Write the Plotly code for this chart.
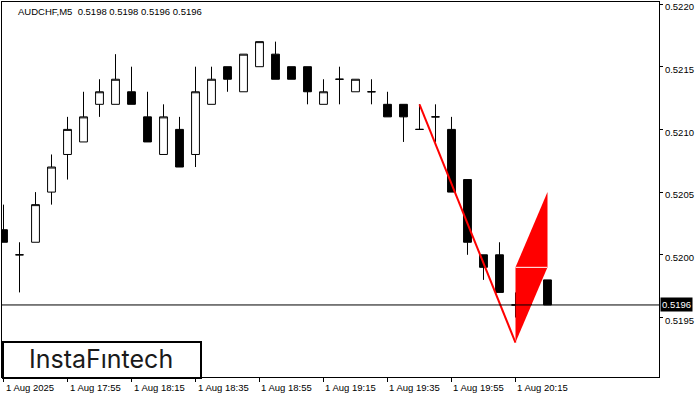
import pandas as pd
import plotly.graph_objects as go

title_text = "AUDCHF,M5  0.5198 0.5198 0.5196 0.5196"
logo_text = "InstaFıntech"

opens = [0.5202, 0.5200, 0.5201, 0.5205, 0.5208, 0.5209, 0.5212, 0.5212, 0.5213, 0.5211,
         0.5208, 0.5210, 0.5208, 0.5212, 0.5215, 0.5213, 0.5215, 0.5216, 0.5215, 0.5215,
         0.5212, 0.5214, 0.5213, 0.5213, 0.5212, 0.5212, 0.5210, 0.5211, 0.5210, 0.5206,
         0.5200, 0.5200, 0.5196, 0.5197, 0.5198]
highs = [0.5204, 0.5201, 0.5205, 0.5208, 0.5211, 0.5213, 0.5214, 0.5216, 0.5215, 0.5213,
         0.5212, 0.5211, 0.5215, 0.5215, 0.5215, 0.5216, 0.5217, 0.5217, 0.5215, 0.5215,
         0.5214, 0.5215, 0.5214, 0.5214, 0.5213, 0.5212, 0.5212, 0.5212, 0.5211, 0.5206,
         0.5200, 0.5201, 0.5197, 0.5200, 0.5198]
lows = [0.5201, 0.5197, 0.5201, 0.5204, 0.5206, 0.5209, 0.5211, 0.5212, 0.5212, 0.5209,
        0.5208, 0.5207, 0.5207, 0.5212, 0.5213, 0.5213, 0.5215, 0.5214, 0.5214, 0.5212,
        0.5212, 0.5212, 0.5213, 0.5212, 0.5211, 0.5209, 0.5210, 0.5209, 0.5205, 0.5200,
        0.5198, 0.5197, 0.5195, 0.5196, 0.5196]
closes = [0.5201, 0.5200, 0.5204, 0.5207, 0.5210, 0.5211, 0.5213, 0.5214, 0.5212, 0.5209,
          0.5211, 0.5207, 0.5213, 0.5214, 0.5214, 0.5216, 0.5217, 0.5214, 0.5214, 0.5213,
          0.5213, 0.5214, 0.5214, 0.5213, 0.5211, 0.5211, 0.5210, 0.5211, 0.5205, 0.5201,
          0.5199, 0.5197, 0.5196, 0.5199, 0.5196]

tick_idx = [0, 4, 8, 12, 16, 20, 24, 28, 32]
tick_labels = ["1 Aug 2025", "1 Aug 17:55", "1 Aug 18:15", "1 Aug 18:35", "1 Aug 18:55",
               "1 Aug 19:15", "1 Aug 19:35", "1 Aug 19:55", "1 Aug 20:15"]
price_ticks = [0.5195, 0.5200, 0.5205, 0.5210, 0.5215, 0.5220]

pole_idx = [26, 32]
pole_prices = [0.5212, 0.5193]
flag_idx = [32, 32, 34, 34, 32]
flag_prices = [0.5193, 0.5199, 0.5205, 0.5199, 0.5193]
sep_idx = [32, 34]
sep_prices = [0.5199, 0.5199]

times = pd.date_range("2025-08-01 17:35", periods=len(opens), freq="5min")
step = pd.Timedelta(minutes=5)

FONT = "Liberation Sans, Arial, sans-serif"

fig = go.Figure()
fig.add_trace(go.Scatter(x=[times[i] for i in flag_idx], y=flag_prices, mode="lines",
                         fill="toself", fillcolor="#ff0000", line=dict(width=0, color="#ff0000"),
                         hoverinfo="skip", showlegend=False))
fig.add_trace(go.Scatter(x=[times[i] for i in sep_idx], y=sep_prices, mode="lines",
                         line=dict(width=1, color="white"), hoverinfo="skip", showlegend=False))
fig.add_trace(go.Candlestick(x=times, open=opens, high=highs, low=lows, close=closes,
                             increasing=dict(line=dict(color="black", width=1), fillcolor="white"),
                             decreasing=dict(line=dict(color="black", width=1), fillcolor="black"),
                             whiskerwidth=0, showlegend=False, hoverinfo="skip"))
fig.add_trace(go.Scatter(x=[times[i] for i in pole_idx], y=pole_prices, mode="lines",
                         line=dict(width=2, color="#ff0000"), hoverinfo="skip", showlegend=False))

annotations = []
for i, lab in zip(tick_idx, tick_labels):
    annotations.append(dict(x=times[i], xref="x", y=0, yref="paper", text=lab,
                            showarrow=False, xanchor="left", yanchor="top", xshift=0, yshift=-3,
                            font=dict(family=FONT, size=9.5, color="black")))
annotations.append(dict(x=0, xref="paper", y=1, yref="paper", text=title_text, showarrow=False,
                        xanchor="left", yanchor="top", xshift=14, yshift=-2,
                        font=dict(family=FONT, size=9.5, color="black")))
annotations.append(dict(x=1, xref="paper", y=closes[-1], yref="y", text=f"{closes[-1]:.4f}",
                        showarrow=False, xanchor="left", yanchor="middle", xshift=1,
                        bgcolor="black", borderpad=1,
                        font=dict(family=FONT, size=9.5, color="white")))
annotations.append(dict(x=(100.8 - 2) / 657, xref="paper", y=(377 - 359) / 375, yref="paper",
                        text=logo_text, showarrow=False, xanchor="center", yanchor="middle",
                        font=dict(family="Inter, sans-serif", size=25, color="#1a1a1a")))

shapes = [
    dict(type="line", xref="paper", x0=0, x1=1, yref="y", y0=closes[-1], y1=closes[-1],
         line=dict(color="black", width=1), layer="above"),
    dict(type="rect", xref="paper", x0=1 / 657, x1=199 / 657, yref="paper",
         y0=-1 / 375, y1=35 / 375, line=dict(color="black", width=2), fillcolor="white",
         layer="above"),
]

fig.update_layout(
    width=700, height=400,
    margin=dict(l=2, r=41, t=2, b=23, autoexpand=False),
    paper_bgcolor="white", plot_bgcolor="white",
    showlegend=False,
    annotations=annotations,
    shapes=shapes,
    xaxis=dict(range=[times[0] - 0.094 * step, times[0] + 40.97 * step],
               rangeslider=dict(visible=False), automargin=False,
               tickvals=[times[i] for i in tick_idx], showticklabels=False,
               ticks="outside", ticklen=4, tickcolor="black", tickwidth=1,
               showgrid=False, zeroline=False,
               showline=True, linecolor="black", linewidth=1, mirror=True),
    yaxis=dict(range=[0.5190255, 0.522016], side="right", automargin=False,
               tickvals=price_ticks, ticktext=[f"{p:.4f}" for p in price_ticks],
               ticks="outside", ticklen=3, tickcolor="black", tickwidth=1,
               ticklabeloverflow="allow", ticklabelshift=3,
               tickfont=dict(family=FONT, size=9.5, color="black"),
               showgrid=False, zeroline=False,
               showline=True, linecolor="black", linewidth=1, mirror=True),
)

fig.write_html("out.html", config={"displayModeBar": False},
               post_script="document.body.style.margin='0';document.body.style.padding='0';")
